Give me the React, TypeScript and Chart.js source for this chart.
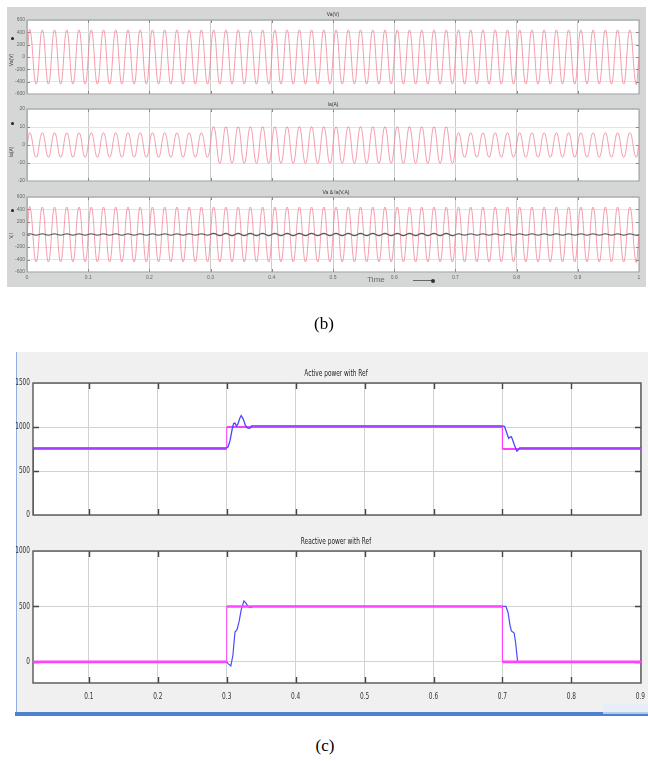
import React, { useEffect, useRef } from "react";
import { Chart, registerables } from "chart.js";

Chart.register(...registerables);

const NARROW = '"Liberation Sans Narrow", "DejaVu Sans Condensed", "Arial Narrow", "Liberation Sans", sans-serif';
const SANS = '"Liberation Sans", Arial, sans-serif';
const SERIF = '"Liberation Serif", "Times New Roman", serif';

// ================= Figure (b): scope traces =================
const B_X_TICKS = [0, 0.1, 0.2, 0.3, 0.4, 0.5, 0.6, 0.7, 0.8, 0.9, 1];
const B_X_LABELS = ["0", "0.1", "0.2", "0.3", "0.4", "0.5", "0.6", "0.7", "0.8", "0.9", "1"];
const B_V_Y_TICKS = [-600, -400, -200, 0, 200, 400, 600];
const B_V_Y_LABELS = ["-600", "-400", "-200", "0", "200", "400", "600"];
const B_I_Y_TICKS = [-20, -10, 0, 10, 20];
const B_I_Y_LABELS = ["-20", "-10", "0", "10", "20"];
const B_TITLES = ["Va(V)", "Ia(A)", "Va & Ia(V,A)"];
const B_AXIS_TITLES = ["Va(V)", "Ia(A)", "V,I"];

// one peak value per half cycle (50 Hz -> 10 ms per half cycle)
const WAVE_FIRST_PEAK_T = 0.005;
const WAVE_HALF_PERIOD = 0.01;

const VOLTAGE_PEAKS = [
  440, -440, 440, -440, 440, -440, 440, -440, 440, -440,
  440, -440, 440, -440, 440, -440, 440, -440, 440, -440,
  440, -440, 440, -440, 440, -440, 440, -440, 440, -440,
  440, -440, 440, -440, 440, -440, 440, -440, 440, -440,
  440, -440, 440, -440, 440, -440, 440, -440, 440, -440,
  440, -440, 440, -440, 440, -440, 440, -440, 440, -440,
  440, -440, 440, -440, 440, -440, 440, -440, 440, -440,
  440, -440, 440, -440, 440, -440, 440, -440, 440, -440,
  440, -440, 440, -440, 440, -440, 440, -440, 440, -440,
  440, -440, 440, -440, 440, -440, 440, -440, 440, -440,
];

const CURRENT_PEAKS = [
  6.8, -6.8, 6.8, -6.8, 6.8, -6.8, 6.8, -6.8, 6.8, -6.8,
  6.8, -6.8, 6.8, -6.8, 6.8, -6.8, 6.8, -6.8, 6.8, -6.8,
  6.8, -6.8, 6.8, -6.8, 6.8, -6.8, 6.8, -6.8, 6.8, -6.8,
  10.2, -10.2, 10.2, -10.2, 10.2, -10.2, 10.2, -10.2, 10.2, -10.2,
  10.2, -10.2, 10.2, -10.2, 10.2, -10.2, 10.2, -10.2, 10.2, -10.2,
  10.2, -10.2, 10.2, -10.2, 10.2, -10.2, 10.2, -10.2, 10.2, -10.2,
  10.2, -10.2, 10.2, -10.2, 10.2, -10.2, 10.2, -10.2, 10.2, -10.2,
  6.8, -6.8, 6.8, -6.8, 6.8, -6.8, 6.8, -6.8, 6.8, -6.8,
  6.8, -6.8, 6.8, -6.8, 6.8, -6.8, 6.8, -6.8, 6.8, -6.8,
  6.8, -6.8, 6.8, -6.8, 6.8, -6.8, 6.8, -6.8, 6.8, -6.8,
];

const OVERLAY_VOLTAGE_PEAKS = [
  440, -440, 440, -440, 440, -440, 440, -440, 440, -440,
  440, -440, 440, -440, 440, -440, 440, -440, 440, -440,
  440, -440, 440, -440, 440, -440, 440, -440, 440, -440,
  440, -440, 440, -440, 440, -440, 440, -440, 440, -440,
  440, -440, 440, -440, 440, -440, 440, -440, 440, -440,
  440, -440, 440, -440, 440, -440, 440, -440, 440, -440,
  440, -440, 440, -440, 440, -440, 440, -440, 440, -440,
  440, -440, 440, -440, 440, -440, 440, -440, 440, -440,
  440, -440, 440, -440, 440, -440, 440, -440, 440, -440,
  440, -440, 440, -440, 440, -440, 440, -440, 440, -440,
];

const OVERLAY_CURRENT_PEAKS = [
  12, -12, 12, -12, 12, -12, 12, -12, 12, -12,
  12, -12, 12, -12, 12, -12, 12, -12, 12, -12,
  12, -12, 12, -12, 12, -12, 12, -12, 12, -12,
  18, -18, 18, -18, 18, -18, 18, -18, 18, -18,
  18, -18, 18, -18, 18, -18, 18, -18, 18, -18,
  18, -18, 18, -18, 18, -18, 18, -18, 18, -18,
  18, -18, 18, -18, 18, -18, 18, -18, 18, -18,
  12, -12, 12, -12, 12, -12, 12, -12, 12, -12,
  12, -12, 12, -12, 12, -12, 12, -12, 12, -12,
  12, -12, 12, -12, 12, -12, 12, -12, 12, -12,
];

// ================= Figure (c): active / reactive power =================
const C_X_MIN = 0.019;
const C_X_MAX = 0.901;
const C_X_TICKS = [0.1, 0.2, 0.3, 0.4, 0.5, 0.6, 0.7, 0.8, 0.9];
const C_X_LABELS = ["0.1", "0.2", "0.3", "0.4", "0.5", "0.6", "0.7", "0.8", "0.9"];
const ACTIVE_Y_TICKS = [0, 500, 1000, 1500];
const ACTIVE_Y_LABELS = ["0", "500", "1000", "1500"];
const REACTIVE_Y_MIN = -190;
const REACTIVE_Y_TICKS = [0, 500, 1000];
const REACTIVE_Y_LABELS = ["0", "500", "1000"];
const C_TITLES = ["Active power with Ref", "Reactive power with Ref"];

const ACTIVE_REF_T = [0.019, 0.3, 0.3, 0.7, 0.7, 0.901];
const ACTIVE_REF_P = [750, 750, 1000, 1000, 750, 750];
const ACTIVE_MEAS_T = [
  0.0192, 0.0194, 0.3, 0.302, 0.305, 0.308, 0.31, 0.312, 0.314, 0.316,
  0.319, 0.321, 0.324, 0.327, 0.33, 0.333, 0.335, 0.336,
  0.7, 0.703, 0.706, 0.709, 0.711, 0.713, 0.715, 0.718, 0.721, 0.723,
  0.725, 0.901,
];
const ACTIVE_MEAS_P = [
  0, 762, 762, 775, 850, 980, 1040, 1045, 1010, 1030,
  1100, 1130, 1090, 1020, 990, 985, 995, 1012,
  1012, 1005, 940, 870, 885, 890, 850, 780, 725, 740,
  762, 762,
];

const REACTIVE_REF_T = [0.019, 0.3, 0.3, 0.7, 0.7, 0.901];
const REACTIVE_REF_Q = [0, 0, 500, 500, 0, 0];
const REACTIVE_MEAS_T = [
  0.019, 0.3, 0.302, 0.306, 0.309, 0.312, 0.315, 0.318, 0.321, 0.325,
  0.328, 0.331, 0.334, 0.339, 0.7, 0.705, 0.708, 0.711, 0.713, 0.717,
  0.719, 0.722, 0.901,
];
const REACTIVE_MEAS_Q = [
  0, 0, -15, -36, 60, 270, 290, 365, 470, 550,
  530, 500, 490, 500, 500, 500, 450, 330, 280, 260,
  180, 0, 0,
];

// ================= helpers =================
type Pt = { x: number; y: number };
const zip = (xs: number[], ys: number[]): Pt[] => xs.map((x, i) => ({ x, y: ys[i] }));
const wave = (peaks: number[]): Pt[] => [
  { x: 0, y: 0 },
  ...peaks.map((y, i) => ({ x: WAVE_FIRST_PEAK_T + i * WAVE_HALF_PERIOD, y })),
  { x: 1, y: 0 },
];

type LabelSpec = {
  values: number[];
  labels: string[];
  size: number;
  family: string;
  color: string;
  gap: number;
  scaleX: number;
};
type FrameSpec = {
  fill: string;
  color: string;
  width: number;
  tickLen: number;
  tickColor: string;
  tickWidth: number;
  yLabels?: LabelSpec;
  xLabels?: LabelSpec;
};

function decorPlugin(f: FrameSpec) {
  return {
    id: "decor",
    beforeDraw(chart: any) {
      const { ctx, chartArea: a } = chart;
      ctx.save();
      ctx.fillStyle = f.fill;
      ctx.fillRect(a.left, a.top, a.right - a.left, a.bottom - a.top);
      ctx.restore();
    },
    beforeDatasetsDraw(chart: any) {
      const { ctx, chartArea: a, scales } = chart;
      ctx.save();
      ctx.strokeStyle = f.tickColor;
      ctx.lineWidth = f.tickWidth;
      ctx.beginPath();
      for (const t of scales.x.ticks) {
        const px = Math.round(scales.x.getPixelForValue(t.value)) + 0.5;
        if (px <= a.left + 1 || px >= a.right - 1) continue;
        ctx.moveTo(px, a.bottom);
        ctx.lineTo(px, a.bottom - f.tickLen);
        ctx.moveTo(px, a.top);
        ctx.lineTo(px, a.top + f.tickLen);
      }
      for (const t of scales.y.ticks) {
        const py = Math.round(scales.y.getPixelForValue(t.value)) + 0.5;
        if (py <= a.top + 1 || py >= a.bottom - 1) continue;
        ctx.moveTo(a.left, py);
        ctx.lineTo(a.left + f.tickLen, py);
        ctx.moveTo(a.right, py);
        ctx.lineTo(a.right - f.tickLen, py);
      }
      ctx.stroke();
      ctx.strokeStyle = f.color;
      ctx.lineWidth = f.width;
      ctx.strokeRect(a.left, a.top, a.right - a.left, a.bottom - a.top);
      ctx.restore();
    },
    afterDraw(chart: any) {
      const { ctx, chartArea: a, scales } = chart;
      if (f.yLabels) {
        const L = f.yLabels;
        ctx.save();
        ctx.fillStyle = L.color;
        ctx.font = `${L.size}px ${L.family}`;
        ctx.textAlign = "right";
        ctx.textBaseline = "middle";
        L.values.forEach((v, i) => {
          const py = scales.y.getPixelForValue(v);
          ctx.save();
          ctx.translate(a.left - L.gap, py);
          ctx.scale(L.scaleX, 1);
          ctx.fillText(L.labels[i], 0, 0);
          ctx.restore();
        });
        ctx.restore();
      }
      if (f.xLabels) {
        const L = f.xLabels;
        ctx.save();
        ctx.fillStyle = L.color;
        ctx.font = `${L.size}px ${L.family}`;
        ctx.textAlign = "center";
        ctx.textBaseline = "top";
        L.values.forEach((v, i) => {
          const px = scales.x.getPixelForValue(v);
          ctx.save();
          ctx.translate(px, a.bottom + L.gap);
          ctx.scale(L.scaleX, 1);
          ctx.fillText(L.labels[i], 0, 0);
          ctx.restore();
        });
        ctx.restore();
      }
    },
  };
}

const PINK = "rgba(240,120,138,0.72)";

function bConfig(
  datasets: any[],
  yMin: number,
  yMax: number,
  yTicks: number[],
  yLabels: string[],
  showX: boolean
) {
  return {
    type: "line",
    data: { datasets },
    options: {
      responsive: false,
      animation: false,
      devicePixelRatio: 1,
      layout: { padding: { left: 0, right: 7, top: 6, bottom: showX ? 0 : 4 } },
      plugins: { legend: { display: false }, tooltip: { enabled: false }, title: { display: false } },
      elements: { point: { radius: 0 } },
      scales: {
        x: {
          type: "linear",
          min: 0,
          max: 1,
          bounds: "data",
          afterBuildTicks: (s: any) => {
            s.ticks = B_X_TICKS.map((v) => ({ value: v }));
          },
          afterFit: (s: any) => {
            s.height = showX ? 9 : 0;
          },
          grid: { color: "#cbcbcb", lineWidth: 1, drawTicks: false },
          border: { display: false },
          ticks: {
            display: showX,
            autoSkip: false,
            maxRotation: 0,
            padding: 3,
            color: "#666",
            font: { size: 5, family: SANS },
            callback: (_v: any, i: number) => B_X_LABELS[i],
          },
        },
        y: {
          type: "linear",
          min: yMin,
          max: yMax,
          bounds: "data",
          afterBuildTicks: (s: any) => {
            s.ticks = yTicks.map((v) => ({ value: v }));
          },
          afterFit: (s: any) => {
            s.width = 20;
          },
          grid: { color: "#e3e3e3", lineWidth: 1, drawTicks: false },
          border: { display: false },
          ticks: {
            autoSkip: false,
            padding: 2,
            color: "#666",
            font: { size: 5, family: SANS },
            callback: (_v: any, i: number) => yLabels[i],
          },
        },
      },
    },
    plugins: [
      decorPlugin({
        fill: "#ffffff",
        color: "#9a9a9a",
        width: 1,
        tickLen: 3,
        tickColor: "#888",
        tickWidth: 1,
      }),
    ],
  };
}

function cConfig(
  datasets: any[],
  yMin: number,
  yMax: number,
  yTicks: number[],
  yLabels: string[],
  showX: boolean
) {
  return {
    type: "line",
    data: { datasets },
    options: {
      responsive: false,
      animation: false,
      devicePixelRatio: 1,
      layout: { padding: { left: 0, right: 8, top: 7, bottom: showX ? 0 : 5 } },
      plugins: { legend: { display: false }, tooltip: { enabled: false }, title: { display: false } },
      elements: { point: { radius: 0 } },
      scales: {
        x: {
          type: "linear",
          min: C_X_MIN,
          max: C_X_MAX,
          bounds: "data",
          afterBuildTicks: (s: any) => {
            s.ticks = C_X_TICKS.map((v) => ({ value: v }));
          },
          afterFit: (s: any) => {
            s.height = showX ? 20 : 0;
          },
          grid: { color: "#d2d2d2", lineWidth: 1, drawTicks: false },
          border: { display: false },
          ticks: { display: false },
        },
        y: {
          type: "linear",
          min: yMin,
          max: yMax,
          bounds: "data",
          afterBuildTicks: (s: any) => {
            s.ticks = yTicks.map((v) => ({ value: v }));
          },
          afterFit: (s: any) => {
            s.width = 23;
          },
          grid: { color: "#d2d2d2", lineWidth: 1, drawTicks: false },
          border: { display: false },
          ticks: { display: false },
        },
      },
    },
    plugins: [
      decorPlugin({
        fill: "#ffffff",
        color: "#555555",
        width: 1.4,
        tickLen: 6,
        tickColor: "#444",
        tickWidth: 1.4,
        yLabels: {
          values: yTicks,
          labels: yLabels,
          size: 9,
          family: NARROW,
          color: "#333",
          gap: 3,
          scaleX: 0.72,
        },
        xLabels: showX
          ? {
              values: C_X_TICKS,
              labels: C_X_LABELS,
              size: 9,
              family: NARROW,
              color: "#333",
              gap: 9,
              scaleX: 0.72,
            }
          : undefined,
      }),
    ],
  };
}

const verticalThin = (w: number) => ({
  borderWidth: (ctx: any) => (ctx.p0.parsed.x === ctx.p1.parsed.x ? w : undefined),
});

function ChartBox(props: { left: number; top: number; width: number; height: number; make: () => any }) {
  const ref = useRef<HTMLCanvasElement | null>(null);
  useEffect(() => {
    const chart = new Chart(ref.current as HTMLCanvasElement, props.make());
    return () => chart.destroy();
  }, []);
  return (
    <canvas
      ref={ref}
      width={props.width}
      height={props.height}
      style={{ position: "absolute", left: props.left, top: props.top, width: props.width, height: props.height }}
    />
  );
}

function Txt(props: {
  x: number;
  y: number;
  text: string;
  size: number;
  family: string;
  color?: string;
  rotate?: number;
  scaleX?: number;
  weight?: number;
}) {
  const tr = `translate(-50%,-50%)${props.rotate ? ` rotate(${props.rotate}deg)` : ""}${
    props.scaleX ? ` scaleX(${props.scaleX})` : ""
  }`;
  return (
    <div
      style={{
        position: "absolute",
        left: props.x,
        top: props.y,
        transform: tr,
        fontSize: props.size,
        fontFamily: props.family,
        color: props.color || "#000",
        whiteSpace: "nowrap",
        lineHeight: 1,
        fontWeight: props.weight || 400,
      }}
    >
      {props.text}
    </div>
  );
}

const Box = (p: { l: number; t: number; w: number; h: number; bg: string; border?: string }) => (
  <div
    style={{
      position: "absolute",
      left: p.l,
      top: p.t,
      width: p.w,
      height: p.h,
      background: p.bg,
      border: p.border,
      boxSizing: "border-box",
    }}
  />
);

export default function App() {
  return (
    <div
      style={{
        position: "absolute",
        left: 0,
        top: 0,
        width: 648,
        height: 761,
        overflow: "hidden",
        background: "#ffffff",
      }}
    >
      {/* ---------- (b) ---------- */}
      <Box l={7} t={7} w={639} h={280} bg="#d5d7d7" />
      <ChartBox
        left={7}
        top={14}
        width={639}
        height={85}
        make={() =>
          bConfig(
            [{ data: wave(VOLTAGE_PEAKS), borderColor: PINK, borderWidth: 1, tension: 0.45 }],
            -600,
            600,
            B_V_Y_TICKS,
            B_V_Y_LABELS,
            false
          )
        }
      />
      <ChartBox
        left={7}
        top={103}
        width={639}
        height={83}
        make={() =>
          bConfig(
            [{ data: wave(CURRENT_PEAKS), borderColor: PINK, borderWidth: 1, tension: 0.45 }],
            -20,
            20,
            B_I_Y_TICKS,
            B_I_Y_LABELS,
            false
          )
        }
      />
      <ChartBox
        left={7}
        top={191}
        width={639}
        height={90}
        make={() =>
          bConfig(
            [
              { data: wave(OVERLAY_CURRENT_PEAKS), borderColor: "#5a5a5a", borderWidth: 1.1, tension: 0.45, order: 0 },
              { data: wave(OVERLAY_VOLTAGE_PEAKS), borderColor: PINK, borderWidth: 1, tension: 0.45, order: 1 },
            ],
            -600,
            600,
            B_V_Y_TICKS,
            B_V_Y_LABELS,
            true
          )
        }
      />
      <Txt x={333} y={14} text={B_TITLES[0]} size={5} family={SANS} color="#333" />
      <Txt x={333} y={104} text={B_TITLES[1]} size={5} family={SANS} color="#333" />
      <Txt x={336} y={192} text={B_TITLES[2]} size={5} family={SANS} color="#333" />
      <Txt x={11} y={60} text={B_AXIS_TITLES[0]} size={5} family={SANS} color="#444" rotate={-90} />
      <Txt x={11} y={152} text={B_AXIS_TITLES[1]} size={5} family={SANS} color="#444" rotate={-90} />
      <Txt x={11} y={236} text={B_AXIS_TITLES[2]} size={5} family={SANS} color="#444" rotate={-90} />
      <div style={{ position: "absolute", left: 11, top: 37, width: 3, height: 3, borderRadius: 2, background: "#222" }} />
      <div style={{ position: "absolute", left: 11, top: 122, width: 3, height: 3, borderRadius: 2, background: "#222" }} />
      <div style={{ position: "absolute", left: 11, top: 209, width: 3, height: 3, borderRadius: 2, background: "#222" }} />
      <Txt x={376} y={280} text="Time" size={8} family={SANS} color="#666" />
      <div style={{ position: "absolute", left: 413, top: 280, width: 20, height: 1, background: "#666" }} />
      <div style={{ position: "absolute", left: 431, top: 278.5, width: 4, height: 4, borderRadius: 2, background: "#333" }} />
      <Txt x={324} y={323} text="(b)" size={17} family={SERIF} />

      {/* ---------- (c) ---------- */}
      <Box l={17} t={352} w={631} h={360} bg="#f0f0f0" />
      <Box l={16} t={352} w={1} h={360} bg="#8fb1e4" />
      <Box l={15} t={712} w={633} h={4} bg="#4f80cf" />
      <Box l={534} t={591} w={80} h={24} bg="rgba(233,241,251,0.55)" border="1px solid rgba(214,228,246,0.7)" />
      <Txt x={576} y={603} text="Activate Windows" size={7} family={NARROW} color="rgba(175,186,200,0.6)" />
      <Box l={603} t={704} w={45} h={10} bg="rgba(226,236,249,0.7)" />
      <ChartBox
        left={10}
        top={376}
        width={639}
        height={144}
        make={() =>
          cConfig(
            [
              {
                data: zip(ACTIVE_MEAS_T, ACTIVE_MEAS_P),
                borderColor: "#4747ff",
                borderWidth: 1.3,
                tension: 0,
                order: 0,
              },
              {
                data: zip(ACTIVE_REF_T, ACTIVE_REF_P),
                borderColor: "#ff3dff",
                borderWidth: 2.2,
                tension: 0,
                order: 1,
                segment: verticalThin(1),
              },
            ],
            0,
            1500,
            ACTIVE_Y_TICKS,
            ACTIVE_Y_LABELS,
            false
          )
        }
      />
      <ChartBox
        left={10}
        top={544}
        width={639}
        height={159}
        make={() =>
          cConfig(
            [
              {
                data: zip(REACTIVE_REF_T, REACTIVE_REF_Q),
                borderColor: "#ff44ff",
                borderWidth: 2.6,
                tension: 0,
                order: 0,
                segment: verticalThin(1),
              },
              {
                data: zip(REACTIVE_MEAS_T, REACTIVE_MEAS_Q),
                borderColor: "#4a4aff",
                borderWidth: 1.2,
                tension: 0,
                order: 1,
              },
            ],
            REACTIVE_Y_MIN,
            1000,
            REACTIVE_Y_TICKS,
            REACTIVE_Y_LABELS,
            true
          )
        }
      />
      <Txt x={336} y={373} text={C_TITLES[0]} size={9} family={NARROW} color="#222" scaleX={0.72} />
      <Txt x={336} y={541} text={C_TITLES[1]} size={9} family={NARROW} color="#222" scaleX={0.72} />
      <Txt x={325} y={745} text="(c)" size={17} family={SERIF} />
    </div>
  );
}
